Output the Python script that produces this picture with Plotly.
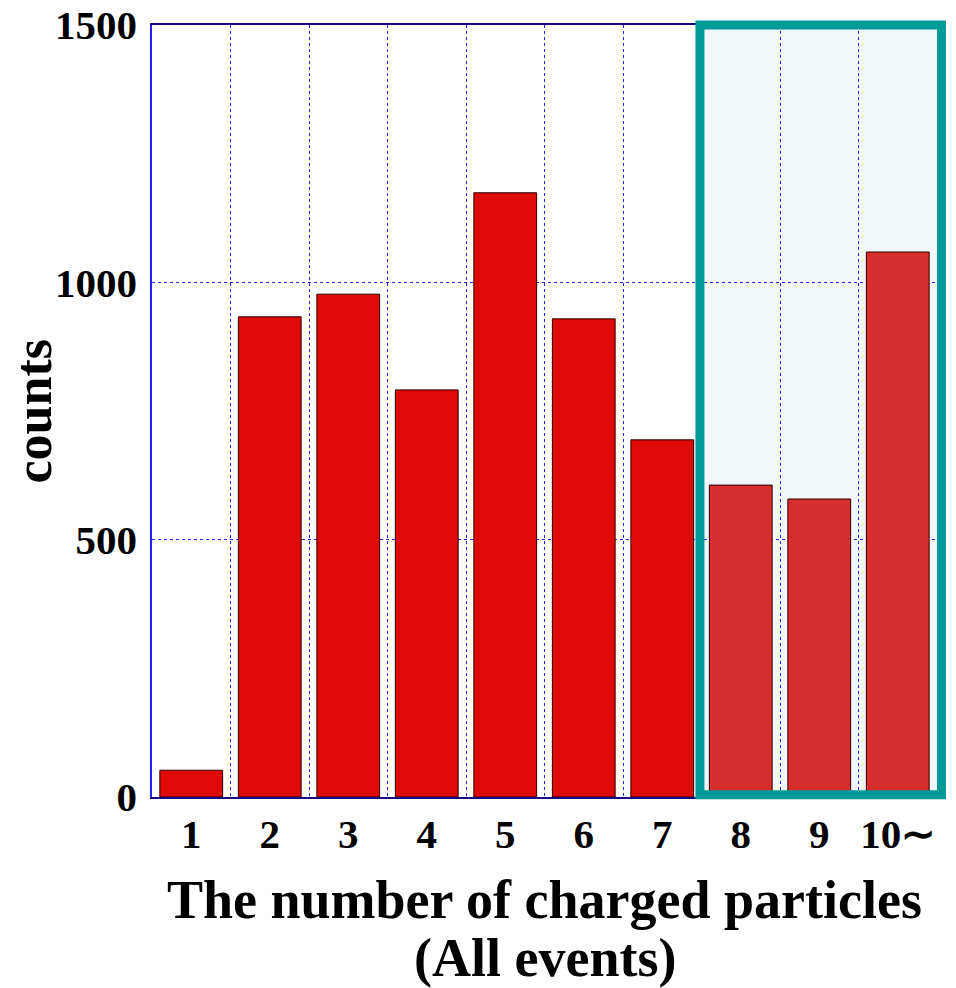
import plotly.graph_objects as go

categories = ["1", "2", "3", "4", "5", "6", "7", "8", "9", "10∼"]
counts = [52, 933, 977, 791, 1174, 929, 694, 606, 579, 1059]
highlight = [False]*7 + [True]*3
y_ticks = [0, 500, 1000, 1500]
x_title_lines = ["The number of charged particles", "(All events)"]
y_title = "counts"

positions = list(range(1, len(categories) + 1))
colors = ["#D82D2D" if h else "#DD0A07" for h in highlight]
x_lo, x_hi = 0.5, len(categories) + 0.5

fig = go.Figure()
fig.add_trace(go.Bar(
    x=positions, y=counts, width=0.8,
    marker=dict(color=colors, line=dict(color="#2a0000", width=1)),
    showlegend=False,
))

font_family = "Liberation Serif, Times New Roman, serif"
grid_color = "#2424E6"

fig.update_layout(
    width=956, height=988,
    margin=dict(l=152, r=19, t=25, b=191),
    plot_bgcolor="white", paper_bgcolor="white",
    font=dict(family=font_family, color="black"),
    xaxis=dict(
        range=[x_lo, x_hi], automargin=False,
        tickvals=positions, ticktext=[f"<b>{c}</b>" for c in categories],
        tickfont=dict(size=41),
        showgrid=False,
        ticks="", ticklen=0, ticklabelstandoff=0,
        showline=True, linecolor="#1a0a80", linewidth=1.5, mirror=True,
        minor=dict(tickvals=[p + 0.5 for p in positions[:-1]], showgrid=True,
                   gridcolor=grid_color, griddash="3px,3px", gridwidth=1, ticks=""),
        zeroline=False,
    ),
    yaxis=dict(
        range=[0, 1500], automargin=False,
        tickvals=y_ticks, ticktext=[f"<b>{v}</b>" for v in y_ticks],
        tickfont=dict(size=41), ticklabeloverflow="allow",
        showgrid=True, gridcolor=grid_color, griddash="3px,3px", gridwidth=1,
        showline=True, linecolor=grid_color, linewidth=1.5, mirror=True,
        ticks="", ticklabelstandoff=5, zeroline=False,
    ),
    bargap=0.2,
)

for i, line in enumerate(x_title_lines):
    fig.add_annotation(text=f"<b>{line}</b>", xref="paper", yref="paper",
                       x=0.5, y=-0.133 - i * 0.076, xanchor="center", yanchor="middle",
                       showarrow=False, font=dict(size=54, family=font_family))

fig.add_annotation(text=f"<b>{y_title}</b>", xref="paper", yref="paper",
                   x=-0.151, y=0.5, xanchor="center", yanchor="middle", textangle=-90,
                   showarrow=False, font=dict(size=52, family=font_family))

first_hl = highlight.index(True) + 1
def to_paper(xv):
    return (xv - x_lo) / (x_hi - x_lo)

fig.add_shape(type="rect", xref="x", yref="y",
              x0=first_hl - 0.52, x1=x_hi, y0=0, y1=1500,
              fillcolor="#F2F7FA", line=dict(width=0), layer="below")
fig.add_shape(type="rect", xref="paper", yref="paper",
              x0=to_paper(first_hl - 0.52), x1=to_paper(x_hi + 0.057), y0=0.003, y1=1.0,
              fillcolor="rgba(0,0,0,0)", line=dict(color="#009A98", width=9), layer="above")

fig.write_html("out.html", config={"displayModeBar": False},
               post_script="document.body.style.margin='0';")
